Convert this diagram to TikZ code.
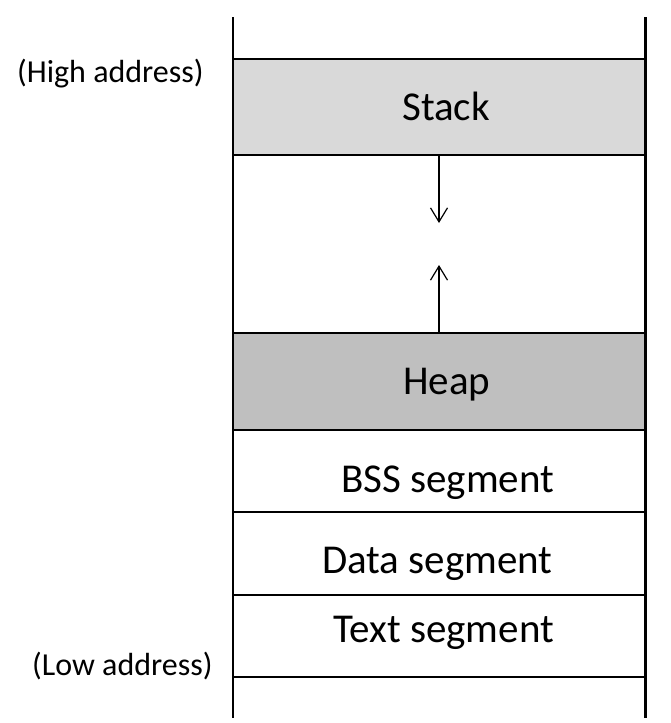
\documentclass[tikz,border=0pt]{standalone}
\usepackage{fontspec}
\setmainfont{Carlito}
\usetikzlibrary{arrows.meta}
\definecolor{stackgray}{HTML}{D9D9D9}
\definecolor{heapgray}{HTML}{BFBFBF}
\tikzset{
  seg/.style={draw=black, line width=2pt, minimum width=412pt, inner sep=0pt, outer sep=0pt, anchor=north west},
  seglabel/.style={font=\fontsize{41}{49}\selectfont, inner sep=0pt, anchor=base west},
  addrlabel/.style={font=\fontsize{32}{38}\selectfont, inner sep=0pt, anchor=base west},
  growarrow/.style={line width=1.2pt, -{Straight Barb[length=14pt,width=17pt,line width=1.2pt]}},
}
\begin{document}
\begin{tikzpicture}[x=1pt,y=-1pt]
\useasboundingbox (0,0) rectangle (670,723);
% segments
\node[seg, fill=stackgray, minimum height=96pt] (stack) at (233,59) {};
\node[seg, draw=none, minimum height=178pt] (free) at (233,155) {};
\node[seg, fill=heapgray, minimum height=97pt] (heap) at (233,333) {};
\node[seg, minimum height=82pt] (bss) at (233,430) {};
\node[seg, minimum height=83pt] (data) at (233,512) {};
\node[seg, minimum height=82pt] (text) at (233,595) {};
% outer walls
\coordinate (ltop) at (233,17);
\coordinate (lbot) at (233,718);
\coordinate (rtop) at (645,17);
\coordinate (rbot) at (645,718);
\draw[line width=2pt] (ltop) -- (lbot);
\draw[line width=3pt] (rtop) -- (rbot);
% labels
\node[addrlabel] (high) at (17,82) {(High address)};
\node[addrlabel] (low) at (32,675) {(Low address)};
\node[seglabel] (stacklbl) at (402,120) {Stack};
\node[seglabel] (heaplbl) at (403,394) {Heap};
\node[seglabel] (bsslbl) at (341,492) {BSS segment};
\node[seglabel] (datalbl) at (322,573) {Data segment};
\node[seglabel] (textlbl) at (333,642) {Text segment};
% growth arrows
\coordinate (downtip) at (439,223);
\coordinate (uptip) at (439,265);
\draw[growarrow] (stack.south -| downtip) -- (downtip);
\draw[growarrow] (heap.north -| uptip) -- (uptip);
\end{tikzpicture}
\end{document}
